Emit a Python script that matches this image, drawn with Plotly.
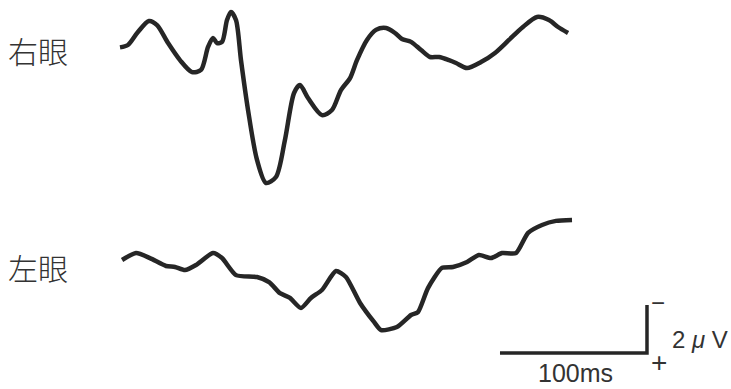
import plotly.graph_objects as go

# Time (ms) and amplitude (µV, negative up) for each eye
right_t = [0, 5.4, 12.2, 19.7, 25.2, 32.7, 40.8, 49.0, 55.1, 59.9, 63.3, 66.0, 69.4, 72.8, 75.5,
           78.9, 82.3, 87.1, 93.2, 99.3, 106.1, 112.2, 118.4, 122.4, 127.9, 137.4, 144.2, 150.3,
           156.5, 161.2, 168.0, 174.1, 181.0, 187.1, 191.8, 198.0, 204.8, 210.9, 217.0, 223.8,
           228.6, 236.1, 245.6, 255.1, 264.6, 274.1, 283.7, 291.8, 298.0, 304.8]
right_v = [0.1, 0.0, -0.54, -1.0, -0.83, -0.08, 0.63, 1.13, 1.04, 0.08, -0.29, -0.08, -0.13, -1.04,
           -1.38, -1.04, 0.63, 2.71, 4.79, 5.75, 5.5, 3.96, 2.0, 1.67, 2.21, 2.92, 2.71, 1.88, 1.38,
           0.63, -0.21, -0.63, -0.71, -0.5, -0.25, -0.13, 0.21, 0.5, 0.5, 0.63, 0.75, 0.96, 0.71,
           0.33, -0.21, -0.75, -1.17, -1.04, -0.75, -0.5]

left_t = [1.4, 10.9, 20.4, 31.3, 37.4, 44.2, 51.7, 63.3, 69.4, 78.9, 93.2, 101.4, 108.8, 115.6,
          123.1, 129.9, 137.4, 146.9, 153.7, 163.3, 172.8, 177.6, 188.4, 198.0, 202.7, 209.5,
          219.0, 226.5, 236.1, 244.2, 252.4, 259.9, 269.4, 277.6, 287.1, 296.6, 307.5]
left_v = [0.0, -0.29, -0.08, 0.25, 0.29, 0.42, 0.21, -0.29, -0.08, 0.63, 0.71, 0.92, 1.38, 1.58,
          2.0, 1.58, 1.25, 0.46, 0.71, 1.79, 2.58, 2.92, 2.79, 2.29, 2.17, 1.17, 0.33, 0.29, 0.08,
          -0.21, -0.08, -0.29, -0.29, -1.13, -1.46, -1.63, -1.67]

# Scale bar: 100 ms horizontal, 2 µV vertical
bar_t = [258.5, 358.5, 358.5]
bar_v = [3.875, 3.875, 1.875]

labels = ["右眼", "左眼"]

W, H = 731, 389
ink = "#262626"

fig = go.Figure()
fig.add_trace(go.Scatter(x=right_t, y=right_v, mode="lines", xaxis="x", yaxis="y", hoverinfo="skip",
                         line=dict(color=ink, width=4.5, shape="spline", smoothing=0.8)))
fig.add_trace(go.Scatter(x=left_t, y=left_v, mode="lines", xaxis="x", yaxis="y2", hoverinfo="skip",
                         line=dict(color=ink, width=4.5, shape="spline", smoothing=0.6)))
fig.add_trace(go.Scatter(x=bar_t, y=bar_v, mode="lines", xaxis="x", yaxis="y2", hoverinfo="skip",
                         line=dict(color=ink, width=3.5)))

px_per_ms = 1.47
px_per_uv = 24.0
x0 = -120 / px_per_ms
x1 = (W - 120) / px_per_ms
half = H / 2
fig.update_layout(
    width=W, height=H,
    margin=dict(l=0, r=0, t=0, b=0),
    paper_bgcolor="white", plot_bgcolor="white",
    showlegend=False,
    xaxis=dict(range=[x0, x1], visible=False, fixedrange=True),
    yaxis=dict(domain=[0.5, 1], range=[(half - 45) / px_per_uv, -45 / px_per_uv], visible=False, fixedrange=True),
    yaxis2=dict(domain=[0, 0.5], range=[(H - 260) / px_per_uv, (half - 260) / px_per_uv], visible=False, fixedrange=True),
)

def ann(text, x, y, size, family, xanchor="left", weight=None, yanchor="middle"):
    f = dict(family=family, size=size, color="#333333")
    if weight:
        f["weight"] = weight
    fig.add_annotation(text=text, x=x / W, y=1 - y / H, xref="paper", yref="paper",
                       showarrow=False, xanchor=xanchor, yanchor=yanchor, font=f)

cjk = "Noto Sans CJK JP"
latin = "Liberation Sans, Arial, sans-serif"
ann(labels[0], 6, 50, 30, cjk, weight=300)
ann(labels[1], 6, 267, 30, cjk, weight=300)
ann("100ms", 575, 389, 25, latin, "center", yanchor="bottom")
ann("2 <i>μ</i> V", 670, 339, 24, latin)
ann("−", 649, 302, 24, latin)
ann("+", 649, 362, 28, latin)

fig.write_html("out.html", config={"displayModeBar": False, "staticPlot": True},
               post_script="document.body.style.margin='0';document.body.style.overflow='hidden';")
